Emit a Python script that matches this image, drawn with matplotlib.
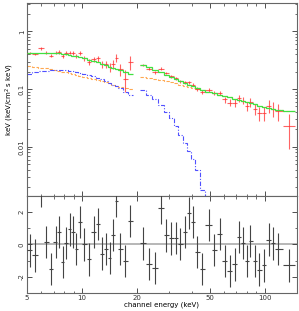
import numpy as np
import matplotlib
matplotlib.use("Agg")
import matplotlib.pyplot as plt
from matplotlib.ticker import FixedLocator, NullFormatter, LogLocator

# low energy data set (5-19 keV)
lo_e = [5.17, 5.56, 5.97, 6.38, 6.77, 7.18, 7.52, 7.87, 8.18, 8.56, 8.93, 9.31, 9.79,
        10.3, 10.97, 11.6, 12.2, 12.8, 13.5, 14.2, 14.8, 15.4, 16.1, 17.3, 18.4]
lo_flux = [0.42, 0.41, 0.51, 0.43, 0.38, 0.43, 0.44, 0.38, 0.42, 0.43, 0.42, 0.37, 0.42,
           0.34, 0.30, 0.33, 0.34, 0.27, 0.27, 0.24, 0.27, 0.35, 0.22, 0.15, 0.29]
lo_err = [0.02, 0.02, 0.025, 0.02, 0.025, 0.025, 0.03, 0.03, 0.03, 0.03, 0.03, 0.03, 0.035,
          0.035, 0.035, 0.035, 0.04, 0.04, 0.04, 0.04, 0.045, 0.05, 0.05, 0.06, 0.08]
lo_total = [0.43, 0.43, 0.43, 0.43, 0.43, 0.425, 0.42, 0.41, 0.40, 0.39, 0.38, 0.37, 0.355,
            0.34, 0.32, 0.305, 0.29, 0.275, 0.26, 0.245, 0.235, 0.225, 0.21, 0.195, 0.18]
lo_pow = [0.25, 0.245, 0.235, 0.228, 0.22, 0.213, 0.207, 0.2, 0.196, 0.19, 0.184, 0.178, 0.171,
          0.164, 0.156, 0.149, 0.143, 0.137, 0.131, 0.125, 0.12, 0.115, 0.11, 0.104, 0.1]
lo_therm = [0.185, 0.195, 0.203, 0.208, 0.211, 0.212, 0.212, 0.211, 0.21, 0.207, 0.203, 0.198, 0.191,
            0.184, 0.175, 0.166, 0.158, 0.148, 0.138, 0.128, 0.12, 0.112, 0.104, 0.09, 0.08]
lo_resid = [-0.37, -0.68, 3.3, 0.16, -1.5, 0.14, 0.76, -1.1, 0.1, 0.93, 0.78, -0.3, 1.4,
            0.0, -0.93, 0.78, 1.28, -0.56, -0.27, -0.82, 0.58, 2.68, -0.27, -1.03, 1.44]

# high energy data set (20-150 keV)
hi_e = [21.6, 23.4, 25.2, 27.2, 29.0, 30.8, 32.7, 34.6, 36.8, 38.7, 40.4, 42.6, 45.4, 49.4,
        53.0, 56.7, 60.4, 64.4, 68.5, 72.1, 75.8, 80.0, 83.5, 88.2, 93.5, 99.6, 105, 111, 118, 136]
hi_flux = [0.26, 0.225, 0.195, 0.225, 0.19, 0.168, 0.153, 0.137, 0.131, 0.131, 0.12, 0.1, 0.088, 0.096,
           0.085, 0.087, 0.066, 0.058, 0.057, 0.069, 0.063, 0.05, 0.059, 0.045, 0.038, 0.038,
           0.051, 0.046, 0.041, 0.023]
hi_err = [0.012, 0.012, 0.012, 0.012, 0.01, 0.01, 0.009, 0.008, 0.008, 0.008, 0.007, 0.007, 0.007, 0.007,
          0.007, 0.007, 0.008, 0.008, 0.009, 0.009, 0.009, 0.009, 0.01, 0.01, 0.01, 0.01,
          0.013, 0.013, 0.013, 0.014]
hi_pow = [0.165, 0.158, 0.15, 0.143, 0.137, 0.131, 0.125, 0.12, 0.114, 0.109, 0.105, 0.1, 0.095, 0.089,
          0.084, 0.08, 0.076, 0.072, 0.068, 0.065, 0.062, 0.059, 0.057, 0.054, 0.051, 0.049,
          0.047, 0.045, 0.043, 0.041]
hi_therm = [0.095, 0.08, 0.066, 0.052, 0.04, 0.031, 0.023, 0.016, 0.0115, 0.0085, 0.0062, 0.004, 0.0018, 0.0006]
hi_total = [0.26, 0.238, 0.216, 0.195, 0.177, 0.162, 0.148, 0.136, 0.1255, 0.1175, 0.111, 0.104, 0.097, 0.09,
            0.084, 0.08, 0.076, 0.072, 0.068, 0.065, 0.062, 0.059, 0.057, 0.054, 0.051, 0.049,
            0.047, 0.045, 0.043, 0.041]
hi_resid = [0.06, -1.2, -1.44, 2.27, 0.56, 0.37, 0.41, 0.04, 0.78, 1.96, 1.38, -0.45, -1.5, 1.2,
            -0.35, 0.66, -1.03, -1.65, -1.24, 0.47, 0.1, -1.03, 0.2, -1.03, -1.55, -1.3,
            0.3, 0.06, -0.3, -1.3]


def edges_of(c):
    c = np.asarray(c, float)
    mid = np.sqrt(c[:-1] * c[1:])
    return np.concatenate([[c[0] ** 2 / mid[0]], mid, [c[-1] ** 2 / mid[-1]]])


plt.rcParams['font.family'] = 'DejaVu Sans'
plt.rcParams['font.size'] = 5

fig = plt.figure(figsize=(2.99, 3.11), dpi=100)
ax = fig.add_axes([0.090, 0.370, 0.903, 0.620])
axr = fig.add_axes([0.090, 0.058, 0.903, 0.312], sharex=ax)

green = '#40e040'
orange = '#ffa850'
blue = '#5050ff'
red = '#ff3030'

for e, f, er, tot, pw, th in [(lo_e, lo_flux, lo_err, lo_total, lo_pow, lo_therm),
                               (hi_e, hi_flux, hi_err, hi_total, hi_pow, hi_therm)]:
    ed = edges_of(e)
    e = np.asarray(e)
    xerr = [e - ed[:-1], ed[1:] - e]
    ax.errorbar(e, f, yerr=er, xerr=xerr, fmt='none', ecolor=red, elinewidth=0.8, alpha=0.75, zorder=3)
    ax.stairs(tot, ed, baseline=None, color=green, lw=0.9, zorder=4)
    ax.stairs(pw, ed, baseline=None, color=orange, lw=0.8, ls=(0, (3, 1.5)), zorder=2)
    ax.stairs(th, ed[:len(th) + 1], baseline=None, color=blue, lw=0.8, ls=(0, (4, 1.5, 1, 1.5)), zorder=2)

for e, r in [(lo_e, lo_resid), (hi_e, hi_resid)]:
    ed = edges_of(e)
    e = np.asarray(e)
    xerr = [e - ed[:-1], ed[1:] - e]
    axr.errorbar(e, r, yerr=1, xerr=xerr, fmt='none', ecolor='#444444', elinewidth=0.8, zorder=3)
axr.axhline(0, color='#aaaaaa', lw=1.2, zorder=1)

ax.set_xscale('log')
ax.set_yscale('log')
ax.set_xlim(5, 150)
ax.set_ylim(0.0014, 3.1)
axr.set_ylim(-3, 3)

for a in (ax, axr):
    a.tick_params(which='both', direction='in', top=True, right=True, colors='#333333', pad=1.5)
    a.tick_params(which='major', length=3.5, width=0.6)
    a.tick_params(which='minor', length=1.8, width=0.5)
    for s in a.spines.values():
        s.set_color('#666666')
        s.set_linewidth(0.8)

ax.tick_params(labelbottom=False)
ax.yaxis.set_major_locator(FixedLocator([0.01, 0.1, 1]))
ax.yaxis.set_minor_locator(LogLocator(base=10, subs=np.arange(2, 10)))
ax.yaxis.set_minor_formatter(NullFormatter())
ax.set_yticklabels(['0.01', '0.1', '1'], rotation=90, va='center')
ax.set_ylabel('keV (keV/cm$^2$ s keV)', labelpad=2)

axr.xaxis.set_major_locator(FixedLocator([10, 100]))
axr.xaxis.set_minor_locator(LogLocator(base=10, subs=np.arange(2, 10)))
axr.xaxis.set_minor_formatter(NullFormatter())
axr.set_xticks([5, 10, 20, 50, 100])
axr.set_xticklabels(['5', '10', '20', '50', '100'])
axr.set_yticks([-2, 0, 2])
axr.set_yticks([-1, 1], minor=True)
axr.set_yticklabels(['-2', '0', '2'], rotation=90, va='center')
axr.set_xlabel('channel energy (keV)', labelpad=0)

fig.savefig('out.png', dpi=100)
